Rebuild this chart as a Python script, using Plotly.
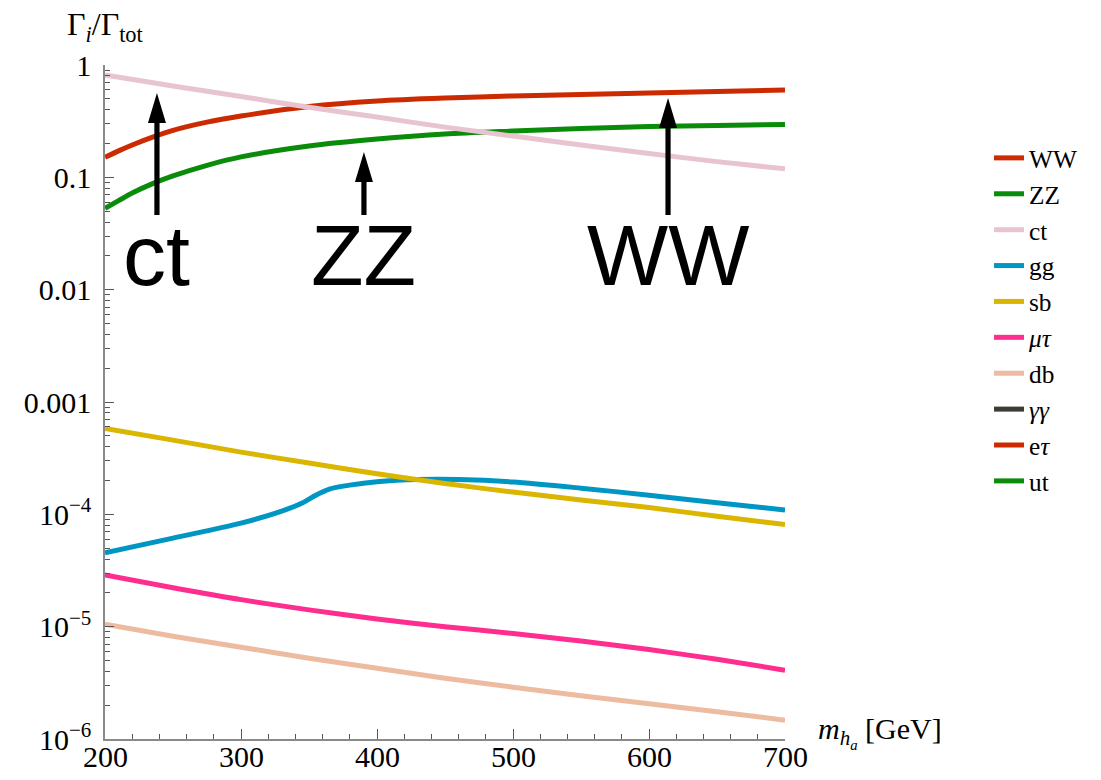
import plotly.graph_objects as go

# ---------------- data ----------------
m_std = [200, 250, 300, 350, 400, 450, 500, 550, 600, 650, 700]
m_vv = [200, 210, 220, 235, 250, 275, 300, 350, 400, 450, 500, 550, 600, 650, 700]

WW = [0.151, 0.172, 0.194, 0.228, 0.262, 0.310, 0.351, 0.427, 0.478, 0.508, 0.530, 0.546, 0.563, 0.581, 0.599]
ZZ = [0.053, 0.062, 0.0725, 0.088, 0.103, 0.128, 0.152, 0.190, 0.219, 0.243, 0.258, 0.272, 0.283, 0.290, 0.296]
ct = [0.815, 0.65, 0.525, 0.42, 0.344, 0.28, 0.233, 0.194, 0.163, 0.138, 0.119]

m_gg = [200, 250, 300, 330, 345, 355, 365, 380, 400, 430, 460, 500, 550, 600, 650, 700]
gg = [4.55e-5, 6.14e-5, 8.35e-5, 1.07e-4, 1.26e-4, 1.48e-4, 1.68e-4, 1.82e-4, 1.95e-4,
      2.04e-4, 2.04e-4, 1.94e-4, 1.71e-4, 1.48e-4, 1.27e-4, 1.09e-4]
sb = [5.82e-4, 4.58e-4, 3.58e-4, 2.86e-4, 2.30e-4, 1.88e-4, 1.58e-4, 1.34e-4, 1.15e-4, 9.6e-5, 8.13e-5]
mutau = [2.88e-5, 2.22e-5, 1.74e-5, 1.41e-5, 1.17e-5, 1.00e-5, 8.70e-6, 7.45e-6, 6.25e-6, 5.12e-6, 4.10e-6]
db = [1.05e-5, 8.22e-6, 6.57e-6, 5.24e-6, 4.27e-6, 3.48e-6, 2.89e-6, 2.43e-6, 2.06e-6, 1.75e-6, 1.47e-6]
# channels below the plotted range (only visible in the legend)
gamgam = [4.0e-7, 3.1e-7, 2.5e-7, 2.0e-7, 1.7e-7, 1.4e-7, 1.2e-7, 1.0e-7, 8.8e-8, 7.7e-8, 6.8e-8]
etau = [9.0e-8, 7.0e-8, 5.5e-8, 4.5e-8, 3.7e-8, 3.2e-8, 2.7e-8, 2.3e-8, 2.0e-8, 1.7e-8, 1.5e-8]
ut = [2.0e-9, 1.6e-9, 1.3e-9, 1.1e-9, 9.0e-10, 7.8e-10, 6.7e-10, 5.8e-10, 5.0e-10, 4.4e-10, 3.9e-10]

y_tickvals = [1e-6, 1e-5, 1e-4, 1e-3, 1e-2, 1e-1, 1]
y_ticktext = ["10<sup>\u22126</sup>", "10<sup>\u22125</sup>", "10<sup>\u22124</sup>",
              "0.001", "0.01", "0.1", "1"]
x_tickvals = [200, 300, 400, 500, 600, 700]
x_ticktext = ["200", "300", "400", "500", "600", "700"]

# arrow annotations: x position, tail value, length in px
arrow_labels = ["ct", "ZZ", "WW"]
arrow_x = [238.2, 390.4, 614.0]
arrow_tail = 0.0462
arrow_len = [122, 63, 117]

series = [
    ("WW", m_vv, WW, "#CC2A00"),
    ("ZZ", m_vv, ZZ, "#0A8C0A"),
    ("ct", m_std, ct, "#E8C3D0"),
    ("gg", m_gg, gg, "#0096C3"),
    ("sb", m_std, sb, "#DAB600"),
    ("<i>\u03bc\u03c4</i>", m_std, mutau, "#FF2D8F"),
    ("db", m_std, db, "#EDBBA0"),
    ("<i>\u03b3\u03b3</i>", m_std, gamgam, "#3C3C37"),
    ("e<i>\u03c4</i>", m_std, etau, "#CC2A00"),
    ("ut", m_std, ut, "#0A8C0A"),
]

fig = go.Figure()
for name, xs, ys, col in series:
    fig.add_trace(go.Scatter(x=xs, y=ys, mode="lines", name=name,
                             line=dict(color=col, width=5, shape="spline", smoothing=0.8)))

serif = "Liberation Serif"
axis_col = "#8a8a8a"

minor_y = []
for k in range(-6, 0):
    for d in range(2, 10):
        minor_y.append(d * 10 ** k)

fig.update_layout(
    width=1101, height=780,
    margin=dict(l=105, r=316, t=65, b=41),
    paper_bgcolor="white", plot_bgcolor="white",
    font=dict(family=serif, size=30, color="black"),
    showlegend=True,
    legend=dict(xref="container", yref="container", x=0.8983, xanchor="left",
                y=0.827, yanchor="top",
                font=dict(family=serif, size=25.3, color="black"),
                bgcolor="rgba(0,0,0,0)", tracegroupgap=0),
    xaxis=dict(range=[200, 700], tickvals=x_tickvals, showgrid=False, zeroline=False,
               automargin=False, showticklabels=False,
               showline=True, linecolor=axis_col, linewidth=1.5,
               ticks="inside", ticklen=10, tickcolor="#555", tickwidth=1,
               minor=dict(ticks="inside", ticklen=5, tickcolor="#555", dtick=20, showgrid=False)),
    yaxis=dict(type="log", range=[-6, 0], tickvals=y_tickvals, ticktext=y_ticktext,
               automargin=False,
               showgrid=False, zeroline=False, showline=True, linecolor=axis_col, linewidth=1.5,
               ticks="inside", ticklen=9, tickcolor="#555", tickwidth=1,
               tickfont=dict(family=serif, size=30), ticklabelstandoff=6,
               minor=dict(ticks="inside", ticklen=5, tickcolor="#555", tickvals=minor_y, showgrid=False)),
)

# x tick labels (placed tight under the axis as in the original)
for xv, xt in zip(x_tickvals, x_ticktext):
    fig.add_annotation(xref="x", yref="paper", x=xv, y=0, xanchor="center", yanchor="top",
                       text=xt, showarrow=False, yshift=1,
                       font=dict(family=serif, size=30))

# axis titles
fig.add_annotation(xref="paper", yref="paper", x=-0.0588, y=1.057, xanchor="left", yanchor="middle",
                   text="\u0393<sub><i>i</i></sub>/\u0393<sub>tot</sub>", showarrow=False,
                   font=dict(family=serif, size=32))
fig.add_annotation(xref="paper", yref="paper", x=1.045, y=0.010, xanchor="left", yanchor="middle",
                   text="<i>m</i><sub><i>h<sub>a</sub></i></sub> [GeV]", showarrow=False,
                   font=dict(family=serif, size=30))

# arrows and big labels
for lab, ax_, ln in zip(arrow_labels, arrow_x, arrow_len):
    path = (f"M0,{ln} L-9,{ln-30} L-2.6,{ln-30} L-2.6,0 L2.6,0 L2.6,{ln-30} L9,{ln-30} Z")
    fig.add_shape(type="path", xref="x", yref="y", xsizemode="pixel", ysizemode="pixel",
                  xanchor=ax_, yanchor=arrow_tail, path=path,
                  fillcolor="black", line=dict(width=0))
    fig.add_annotation(xref="x", yref="paper", x=ax_, y=0.718, xanchor="center", yanchor="middle",
                       text=lab, showarrow=False,
                       font=dict(family="Liberation Sans", size=86, color="black"))

fig.write_html("out.html")
